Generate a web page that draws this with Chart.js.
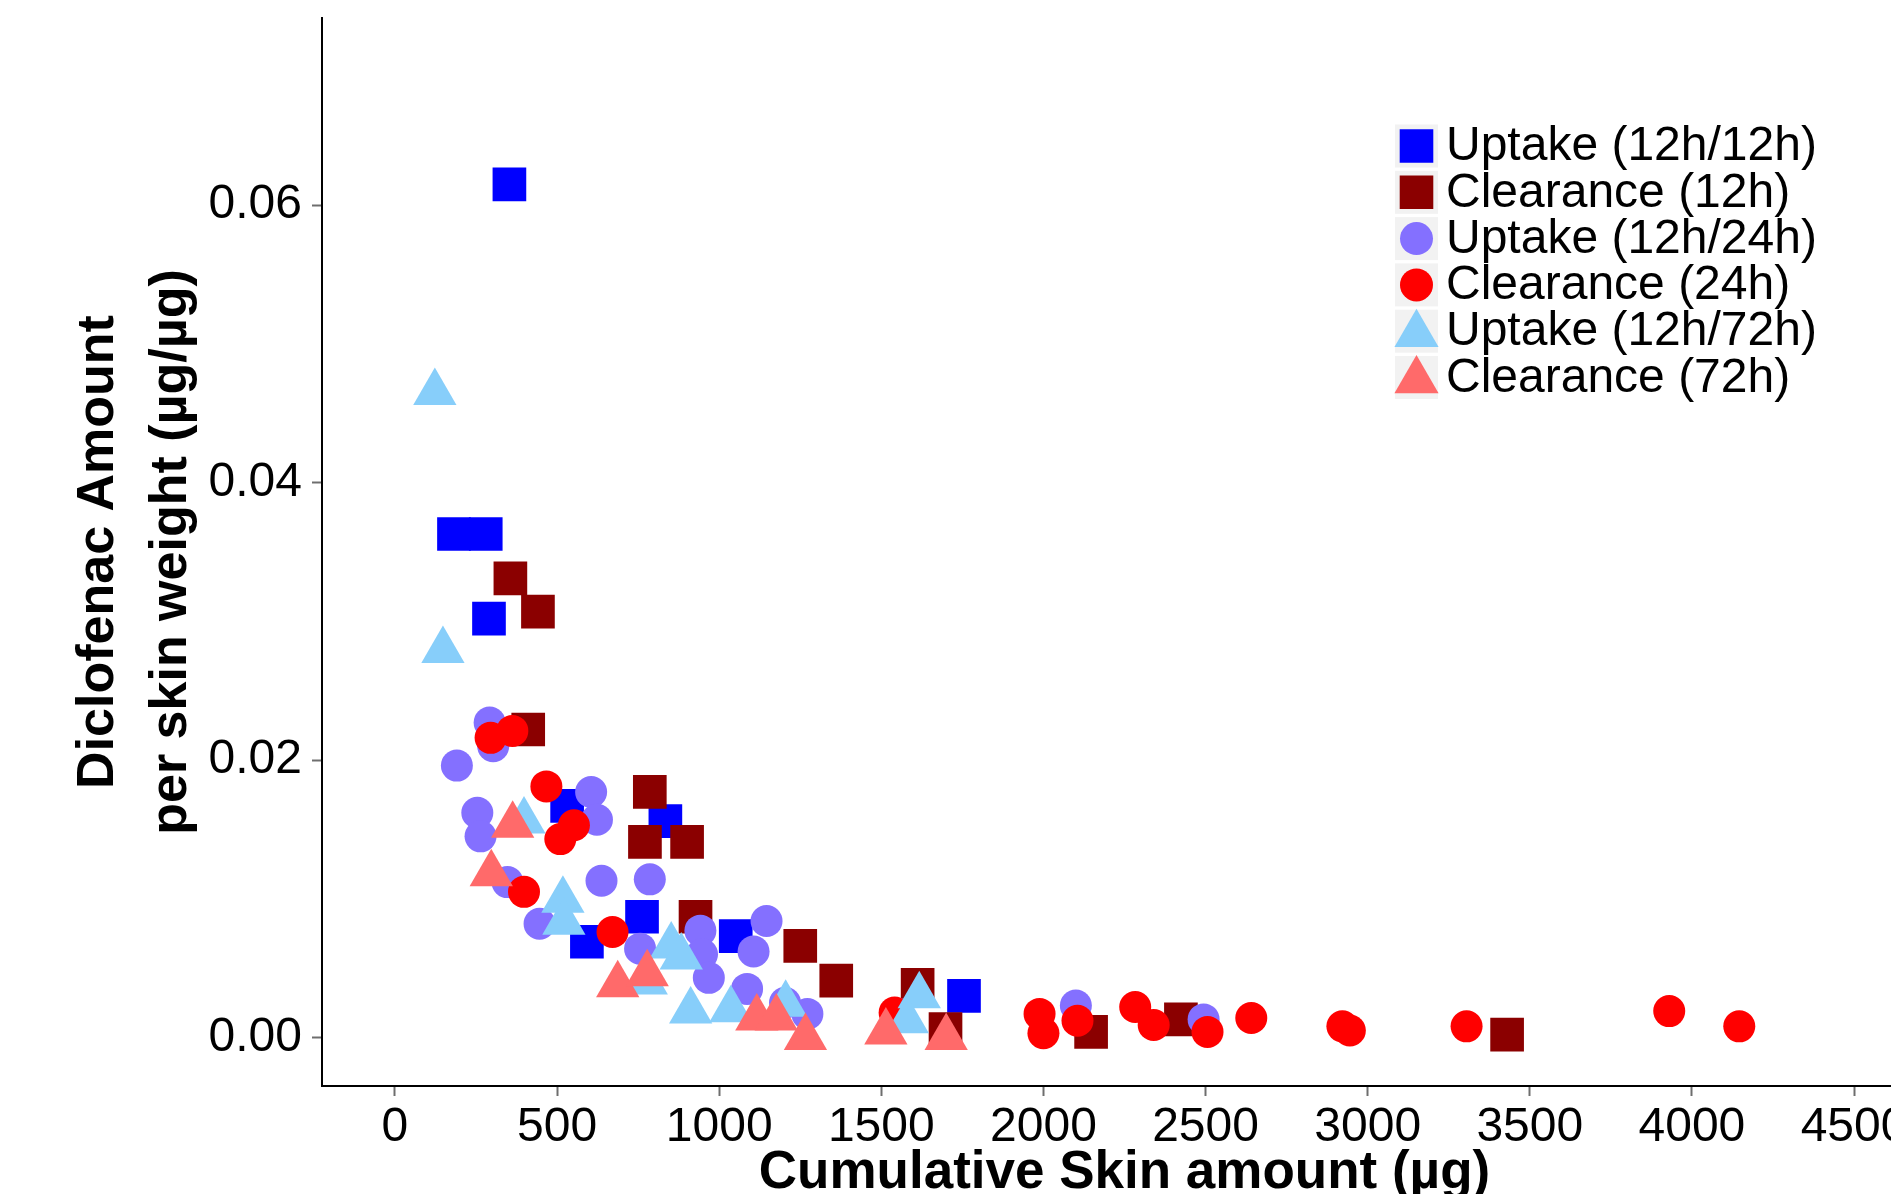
<!DOCTYPE html>
<html>
<head>
<meta charset="utf-8">
<script src="https://cdn.jsdelivr.net/npm/chart.js@4.4.1/dist/chart.umd.min.js"></script>
<style>
  html, body { margin: 0; padding: 0; overflow: hidden; background: #ffffff; width: 1891px; height: 1194px; }
  #wrap { width: 1960px; height: 1201px; margin-top: -7px; }
  canvas { display: block; }
</style>
</head>
<body>
<div id="wrap"><canvas id="c" width="1960" height="1201"></canvas></div>
<script>
// ---- Data ----
const seriesNames = ["Uptake (12h/12h)", "Clearance (12h)", "Uptake (12h/24h)", "Clearance (24h)", "Uptake (12h/72h)", "Clearance (72h)"];

const uptake12X = [182, 280, 290, 353, 531, 834, 762, 592, 1051, 1755];
const uptake12Y = [0.0363, 0.0363, 0.0302, 0.0615, 0.0167, 0.0156, 0.0087, 0.0069, 0.0073, 0.0030];

const clear12X = [356, 441, 411, 786, 771, 901, 927, 1250, 1361, 1612, 1698, 2147, 2424, 3430];
const clear12Y = [0.0331, 0.0307, 0.0222, 0.0177, 0.0141, 0.0141, 0.0087, 0.0066, 0.0041, 0.0038, 0.0006, 0.0004, 0.0013, 0.0002];

const uptake24X = [292, 303, 191, 254, 264, 605, 623, 347, 637, 786, 446, 756, 942, 947, 968, 1146, 1106, 1086, 1203, 1272, 1553, 2100, 2494];
const uptake24Y = [0.0227, 0.0210, 0.0196, 0.0162, 0.0145, 0.0177, 0.0157, 0.0112, 0.0113, 0.0114, 0.0082, 0.0064, 0.0077, 0.0060, 0.0043, 0.0084, 0.0062, 0.0035, 0.0025, 0.0017, 0.0017, 0.0023, 0.0013];

const clear24X = [295, 362, 467, 552, 510, 398, 671, 1541, 1988, 2000, 2105, 2283, 2340, 2506, 2641, 2922, 2945, 3305, 3930, 4146];
const clear24Y = [0.0216, 0.0221, 0.0181, 0.0153, 0.0143, 0.0105, 0.0076, 0.0018, 0.0017, 0.0003, 0.0012, 0.0022, 0.0009, 0.0004, 0.0014, 0.0008, 0.0005, 0.0008, 0.0019, 0.0008];

const uptake72X = [123, 148, 398, 518, 521, 852, 883, 775, 912, 1036, 1205, 1617, 1580];
const uptake72Y = [0.0465, 0.0279, 0.0156, 0.0099, 0.0083, 0.0066, 0.0058, 0.0040, 0.0019, 0.0020, 0.0024, 0.0030, 0.0012];

const clear72X = [363, 297, 687, 778, 1116, 1176, 1266, 1514, 1700];
const clear72Y = [0.0153, 0.0118, 0.0038, 0.0046, 0.0014, 0.0014, 0.0000, 0.0004, 0.0000];

const xTicks = [0, 500, 1000, 1500, 2000, 2500, 3000, 3500, 4000, 4500];
const yTicks = [0.00, 0.02, 0.04, 0.06];

const xTitle = "Cumulative Skin amount (\u00b5g)";
const yTitle = ["Diclofenac Amount", "per skin weight (\u00b5g/\u00b5g)"];

// ---- Styles ----
const colors = ["#0000FF", "#8B0000", "#8470FF", "#FF0000", "#87CEFA", "#FF6A6A"];
const shapes = ["rect", "rect", "circle", "circle", "triangle", "triangle"];
const radii  = [23.8, 23.8, 16, 16, 25, 25];

const xs = [uptake12X, clear12X, uptake24X, clear24X, uptake72X, clear72X];
const ys = [uptake12Y, clear12Y, uptake24Y, clear24Y, uptake72Y, clear72Y];

const FONT = "'Liberation Sans', Arial, Helvetica, sans-serif";

const datasets = seriesNames.map((name, i) => ({
  label: name,
  data: xs[i].map((x, k) => ({ x: x, y: ys[i][k] })),
  pointStyle: shapes[i],
  pointRadius: radii[i],
  pointHoverRadius: radii[i],
  backgroundColor: colors[i],
  borderColor: colors[i],
  borderWidth: 0,
  pointBorderWidth: 0,
  showLine: false,
  order: seriesNames.length - i
}));

// custom legend drawn inside the plot (ggplot style)
const legendPlugin = {
  id: 'ggLegend',
  afterDraw(chart) {
    const ctx = chart.ctx;
    const keyLeft = 1395, keySize = 43, textX = 1446, firstRow = 153, rowStep = 46.3;
    ctx.save();
    chart.data.datasets.forEach((ds, i) => {
      const cy = firstRow + i * rowStep;
      ctx.fillStyle = '#F2F2F2';
      ctx.fillRect(keyLeft, cy - keySize / 2, keySize, keySize);
      const cx = keyLeft + keySize / 2;
      ctx.fillStyle = ds.backgroundColor;
      ctx.beginPath();
      if (ds.pointStyle === 'rect') {
        const h = 16.8;
        ctx.rect(cx - h, cy - h, 2 * h, 2 * h);
      } else if (ds.pointStyle === 'circle') {
        ctx.arc(cx, cy, 16.5, 0, Math.PI * 2);
      } else {
        const r = 25.5;
        const ty = cy + 3;
        ctx.moveTo(cx, ty - r);
        ctx.lineTo(cx + r * Math.sin(Math.PI / 3), ty + r / 2);
        ctx.lineTo(cx - r * Math.sin(Math.PI / 3), ty + r / 2);
        ctx.closePath();
      }
      ctx.fill();
      ctx.fillStyle = '#000000';
      ctx.font = '48px ' + FONT;
      ctx.textAlign = 'left';
      ctx.textBaseline = 'middle';
      ctx.fillText(ds.label, textX, cy + 1);
    });
    ctx.restore();
  }
};

new Chart(document.getElementById('c'), {
  type: 'scatter',
  data: { datasets: datasets },
  plugins: [legendPlugin],
  options: {
    responsive: false,
    animation: false,
    events: [],
    layout: { padding: { top: 25, right: 33, bottom: 0, left: 0 } },
    plugins: { legend: { display: false }, tooltip: { enabled: false }, title: { display: false } },
    scales: {
      x: {
        type: 'linear',
        min: -225,
        max: 4725,
        afterBuildTicks: (scale) => { scale.ticks = xTicks.map(v => ({ value: v })); },
        afterFit: (scale) => { scale.height = 108; scale.paddingLeft = 0; scale.paddingRight = 0; scale.paddingTop = 0; scale.paddingBottom = 0; },
        ticks: {
          autoSkip: false, maxRotation: 0, minRotation: 0,
          color: '#000000',
          font: { family: FONT, size: 48, lineHeight: 1.2 },
          padding: 3,
          callback: (v) => String(v)
        },
        grid: { display: true, drawOnChartArea: false, drawTicks: true, tickLength: 10, tickColor: '#6E6E6E', tickWidth: 2 },
        border: { display: true, color: '#000000', width: 2 },
        title: {
          display: true, text: xTitle, color: '#000000',
          font: { family: FONT, size: 53, weight: 'bold', lineHeight: 1 },
          padding: { top: 0, bottom: -6 }
        }
      },
      y: {
        type: 'linear',
        min: -0.0035,
        max: 0.0735,
        afterBuildTicks: (scale) => { scale.ticks = yTicks.map(v => ({ value: v })); },
        afterFit: (scale) => { scale.width = 322; scale.paddingLeft = 0; scale.paddingRight = 0; scale.paddingTop = 0; scale.paddingBottom = 0; },
        ticks: {
          color: '#000000',
          font: { family: FONT, size: 48, lineHeight: 1.2 },
          padding: 10,
          callback: (v) => Number(v).toFixed(2)
        },
        grid: { display: true, drawOnChartArea: false, drawTicks: true, tickLength: 10, tickColor: '#6E6E6E', tickWidth: 2 },
        border: { display: true, color: '#000000', width: 2 },
        title: {
          display: true, text: yTitle, color: '#000000',
          font: { family: FONT, size: 52, weight: 'bold', lineHeight: 1.4 },
          padding: { top: 62, bottom: 0 }
        }
      }
    }
  }
});
</script>
</body>
</html>
